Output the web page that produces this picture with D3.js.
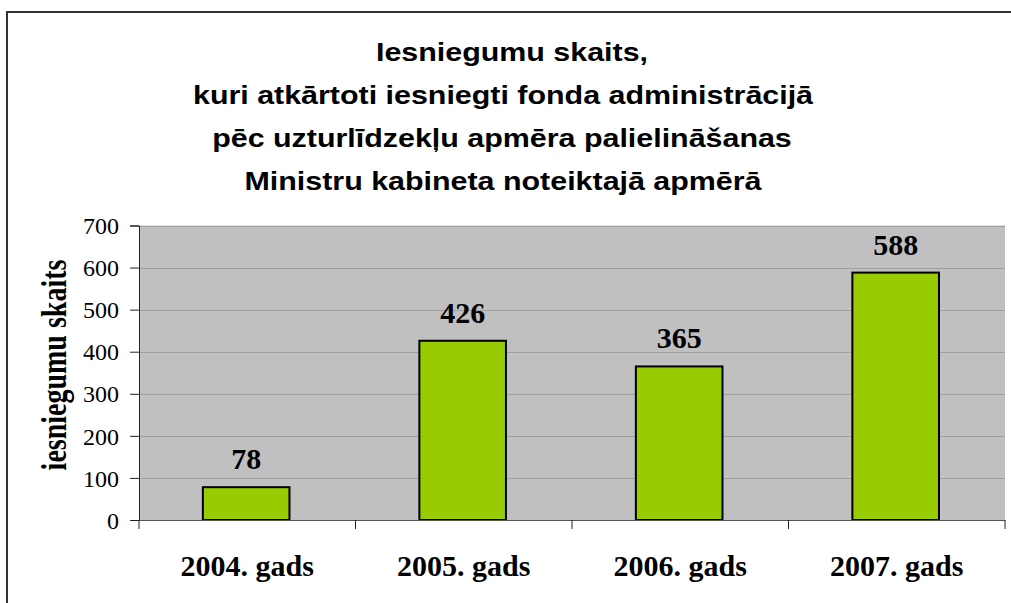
<!DOCTYPE html>
<html>
<head>
<meta charset="utf-8">
<script src="https://cdn.jsdelivr.net/npm/d3@7"></script>
<style>
  body { margin: 0; background: #fff; }
  svg { display: block; }
</style>
</head>
<body>
<div id="chart"></div>
<script>
// chart data
var years = ["2004. gads", "2005. gads", "2006. gads", "2007. gads"];
var counts = [78, 426, 365, 588];
var yTicks = [0, 100, 200, 300, 400, 500, 600, 700];
var titleLines = [
    "Iesniegumu skaits,",
    "kuri atkārtoti iesniegti fonda administrācijā",
    "pēc uzturlīdzekļu apmēra palielināšanas",
    "Ministru kabineta noteiktajā apmērā"
];
var yTitle = "iesniegumu skaits";

var svgWidth = 1011;
var svgHeight = 603;

// plot area
var plot = { left: 139, right: 1005, top: 225.5, bottom: 520 };

var svg = d3.select("#chart")
    .append("svg")
    .attr("width", svgWidth)
    .attr("height", svgHeight);

// outer frame (runs off right and bottom)
svg.append("rect")
    .attr("x", 7)
    .attr("y", 12)
    .attr("width", 1020)
    .attr("height", 620)
    .attr("fill", "#fff")
    .attr("stroke", "#333")
    .attr("stroke-width", 2);

// title - the original is stretched sideways, so scale x a bit
var titleX = [512, 503, 502, 503];
svg.append("g")
    .selectAll("text")
    .data(titleLines)
    .enter()
    .append("text")
    .attr("transform", (d, i) => `translate(${titleX[i]}, ${61 + i * 43}) scale(1.17, 1)`)
    .attr("text-anchor", "middle")
    .style("font-family", "'Liberation Sans', Arial, sans-serif")
    .style("font-weight", "bold")
    .style("font-size", "26px")
    .text(d => d);

var xScale = d3.scaleBand()
    .domain(years)
    .range([plot.left, plot.right])
    .padding(0);

var yScale = d3.scaleLinear()
    .domain([0, 700])
    .range([plot.bottom, plot.top]);

// plot background
svg.append("rect")
    .attr("x", plot.left)
    .attr("y", plot.top)
    .attr("width", plot.right - plot.left)
    .attr("height", plot.bottom - plot.top)
    .attr("fill", "#c0c0c0");

// gridlines
svg.append("g")
    .selectAll("line")
    .data(yTicks.filter(d => d > 0))
    .enter()
    .append("line")
    .attr("x1", plot.left)
    .attr("x2", plot.right)
    .attr("y1", d => Math.round(yScale(d)) + 0.5)
    .attr("y2", d => Math.round(yScale(d)) + 0.5)
    .attr("stroke", "#a0a0a0")
    .attr("stroke-width", 1);

// bars
var bw = xScale.bandwidth();
svg.append("g")
    .selectAll("rect")
    .data(counts)
    .enter()
    .append("rect")
    .attr("x", (d, i) => xScale(years[i]) + bw * 0.295)
    .attr("y", d => yScale(d))
    .attr("width", bw * 0.4)
    .attr("height", d => plot.bottom - yScale(d))
    .attr("fill", "#99cc00")
    .attr("stroke", "#000")
    .attr("stroke-width", 2);

// value labels
svg.append("g")
    .selectAll("text")
    .data(counts)
    .enter()
    .append("text")
    .attr("x", (d, i) => xScale(years[i]) + bw * 0.495)
    .attr("y", d => yScale(d) - 18)
    .attr("text-anchor", "middle")
    .style("font-family", "'Liberation Serif', 'Times New Roman', serif")
    .style("font-weight", "bold")
    .style("font-size", "30px")
    .text(d => d);

// y axis
var leftAxis = d3.axisLeft(yScale)
    .tickValues(yTicks)
    .tickSize(9)
    .tickPadding(11)
    .tickFormat(d3.format("d"));

var yAxis = svg.append("g")
    .attr("transform", `translate(${plot.left}, 0)`)
    .call(leftAxis);
// axis call sets its own font, so override afterwards
yAxis.attr("font-size", 24)
    .attr("font-family", "'Liberation Serif', 'Times New Roman', serif");
yAxis.select(".domain").attr("stroke", "#222");
yAxis.selectAll(".tick line").attr("stroke", "#222");
yAxis.selectAll("text")
    .attr("fill", "#000")
    .attr("dy", "0.34em");

// x axis: ticks at category boundaries
var bottomAxis = d3.axisBottom(xScale)
    .tickSize(0)
    .tickPadding(0)
    .tickFormat("");
var xAxis = svg.append("g")
    .attr("transform", `translate(0, ${plot.bottom})`)
    .call(bottomAxis);
xAxis.select(".domain").attr("stroke", "#555");

xAxis.append("g")
    .selectAll("line")
    .data(years.concat([null]))
    .enter()
    .append("line")
    .attr("x1", d => d ? xScale(d) : plot.right)
    .attr("x2", d => d ? xScale(d) : plot.right)
    .attr("y1", 0)
    .attr("y2", 9)
    .attr("stroke", "#222");

// category labels
svg.append("g")
    .selectAll("text")
    .data(years)
    .enter()
    .append("text")
    .attr("x", d => xScale(d) + bw / 2)
    .attr("y", 576)
    .attr("text-anchor", "middle")
    .style("font-family", "'Liberation Serif', 'Times New Roman', serif")
    .style("font-weight", "bold")
    .style("font-size", "30px")
    .text(d => d);

// y axis title (glyphs look stretched across, like the title)
svg.append("text")
    .attr("transform", "translate(66, 365) rotate(-90) scale(1, 1.3)")
    .attr("text-anchor", "middle")
    .style("font-family", "'Liberation Serif', 'Times New Roman', serif")
    .style("font-weight", "bold")
    .style("font-size", "28px")
    .text(yTitle);
</script>
</body>
</html>
